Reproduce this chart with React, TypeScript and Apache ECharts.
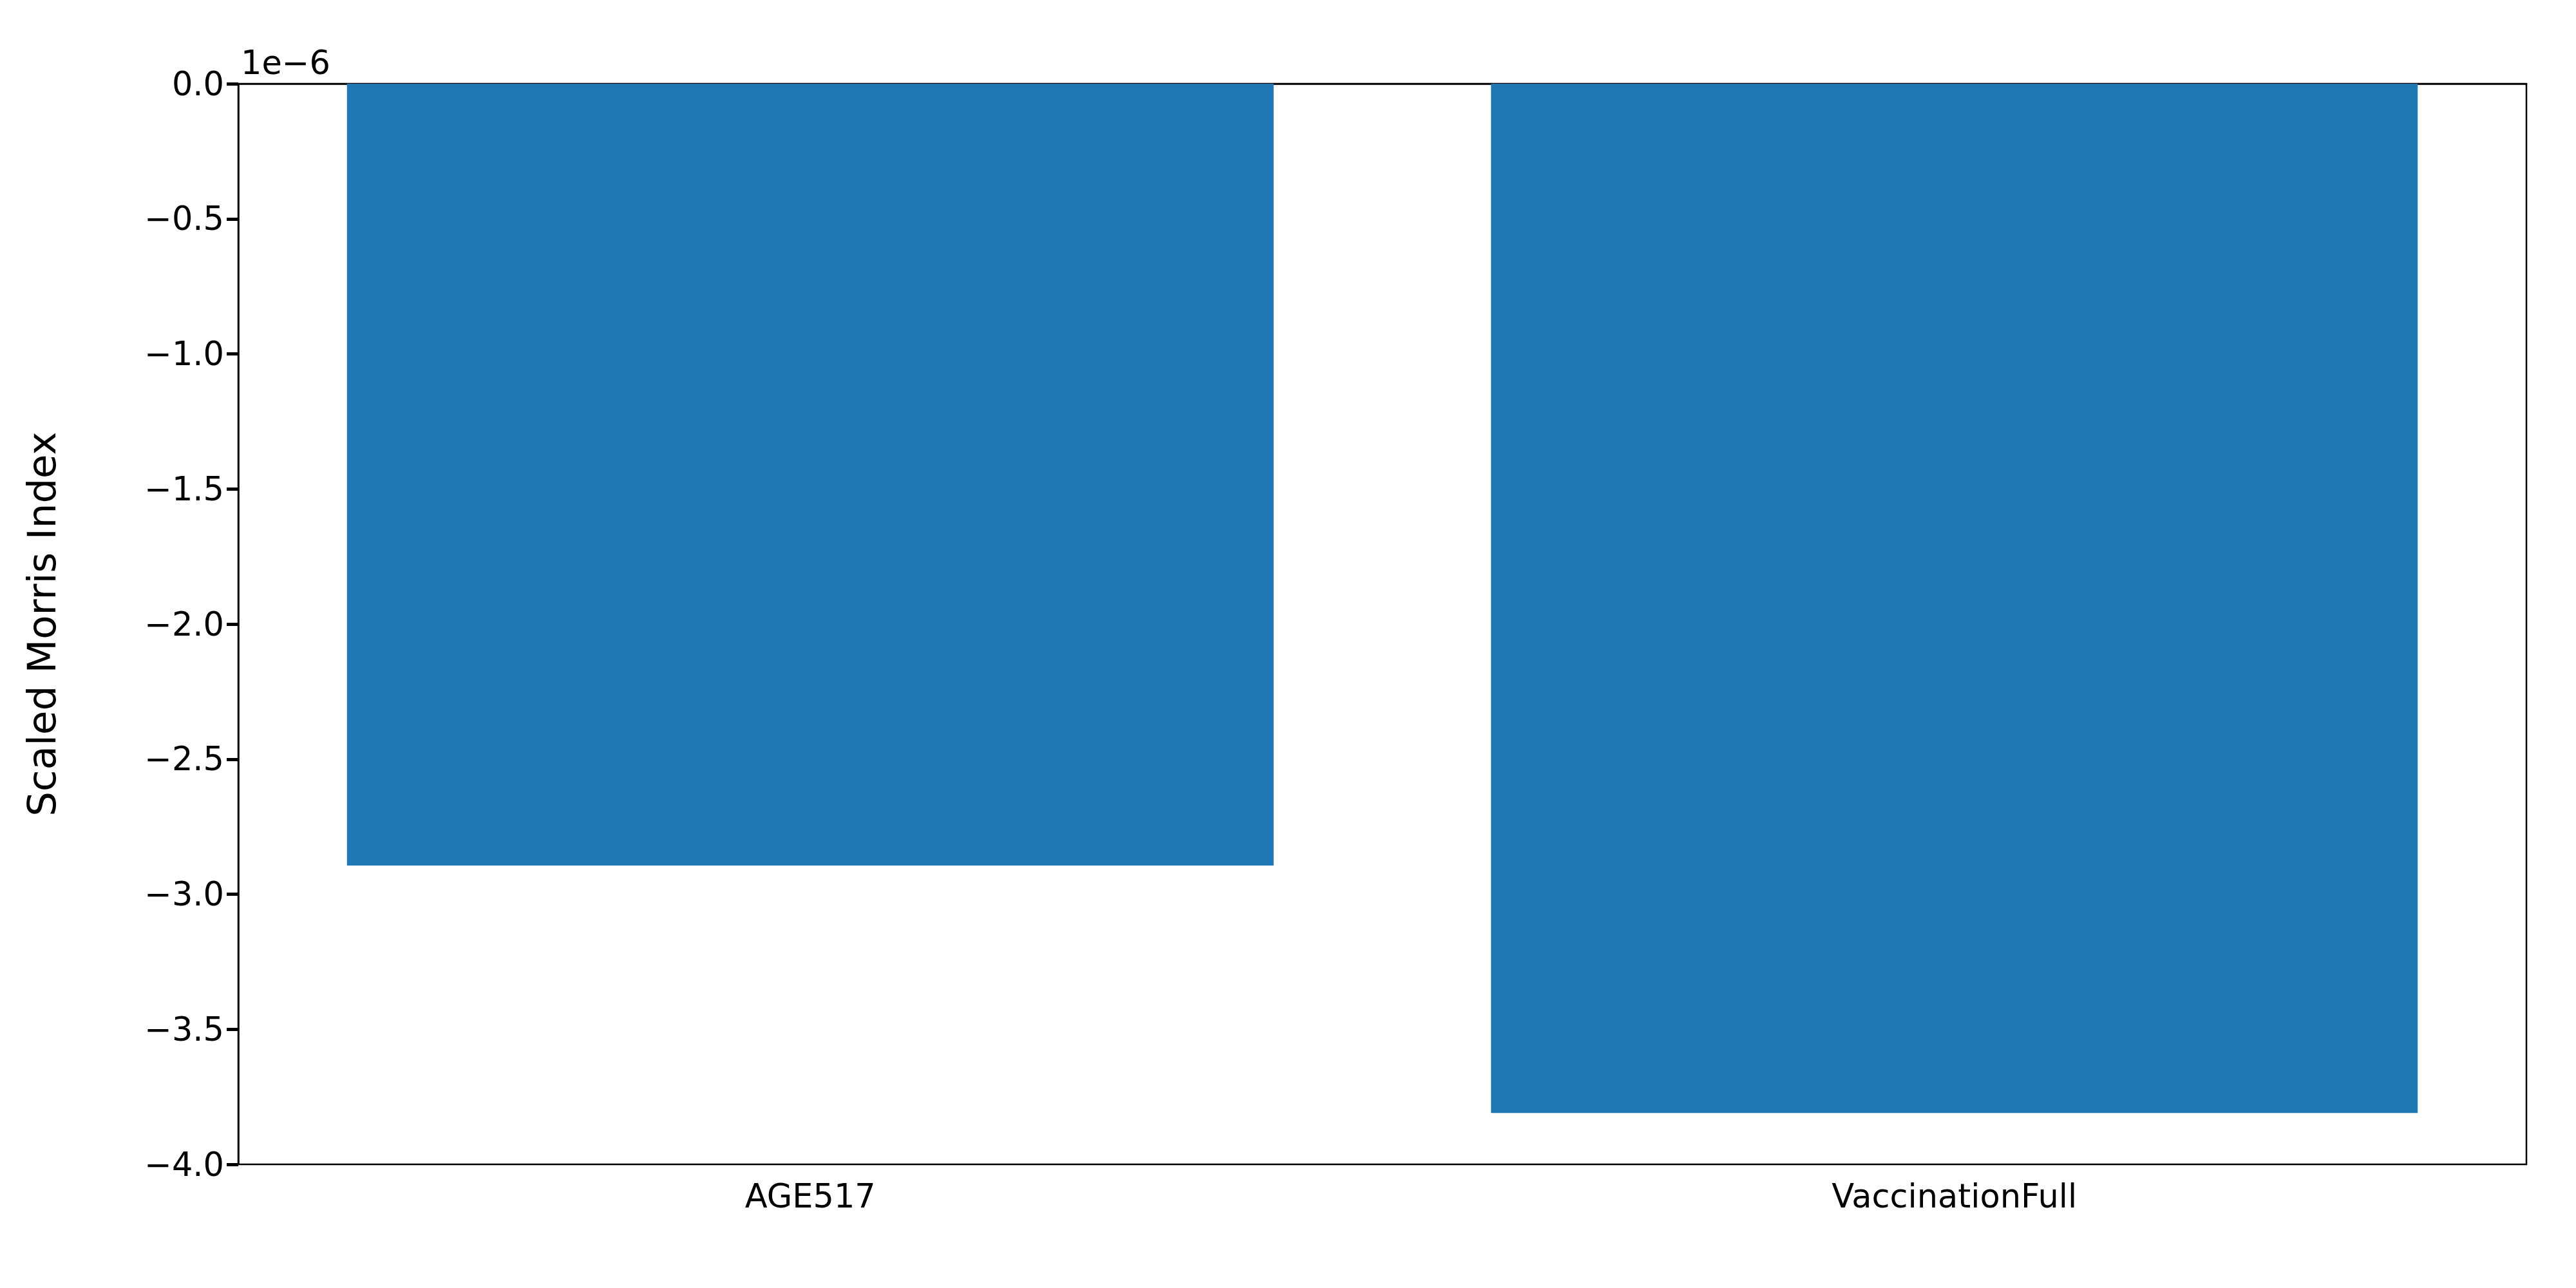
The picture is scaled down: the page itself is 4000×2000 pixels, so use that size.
import { useEffect, useRef } from "react";
import * as echarts from "echarts";

const categories = ["AGE517", "VaccinationFull"];
const morrisValues = [-2.894e-6, -3.81e-6];
const yMin = -4e-6;
const yMax = 0;
const yStep = 0.5e-6;

export default function App() {
  const chartRef = useRef<HTMLDivElement>(null);

  useEffect(() => {
    document.body.style.margin = "0";
    if (!chartRef.current) return;
    const chart = echarts.init(chartRef.current, undefined, { renderer: "svg" });
    const font = "DejaVu Sans";
    chart.setOption({
      animation: false,
      backgroundColor: "#ffffff",
      textStyle: { fontFamily: font },
      grid: {
        left: 370,
        right: 77,
        top: 130,
        bottom: 192,
        show: true,
        borderColor: "#000",
        borderWidth: 2.5,
        backgroundColor: "transparent",
      },
      graphic: [
        {
          type: "text",
          left: 374,
          top: 72,
          style: { text: "1e\u22126", font: `51px ${font}`, fill: "#000" },
        },
      ],
      xAxis: {
        type: "category",
        data: categories,
        axisLine: { show: true, lineStyle: { color: "#000", width: 2.5 } },
        axisTick: { show: true, alignWithLabel: true, length: 18, lineStyle: { color: "#000", width: 5 } },
        axisLabel: { color: "#000", fontSize: 51, margin: 24, fontFamily: font },
      },
      yAxis: {
        type: "value",
        min: yMin,
        max: yMax,
        interval: yStep,
        name: "Scaled Morris Index",
        nameLocation: "middle",
        nameGap: 275,
        nameTextStyle: { fontSize: 61, color: "#000", fontFamily: font },
        splitLine: { show: false },
        axisLine: { show: true, lineStyle: { color: "#000", width: 2.5 } },
        axisTick: { show: true, length: 18, lineStyle: { color: "#000", width: 5 } },
        axisLabel: {
          color: "#000",
          fontSize: 51,
          margin: 22,
          fontFamily: font,
          formatter: (v: number) => (Math.round(v / 1e-7) / 10).toFixed(1).replace("-", "\u2212"),
        },
      },
      series: [
        {
          type: "bar",
          data: morrisValues,
          barWidth: "81%",
          itemStyle: { color: "#1f77b4" },
        },
      ],
    });
    return () => chart.dispose();
  }, []);

  return <div ref={chartRef} style={{ width: "4000px", height: "2000px" }}></div>;
}
